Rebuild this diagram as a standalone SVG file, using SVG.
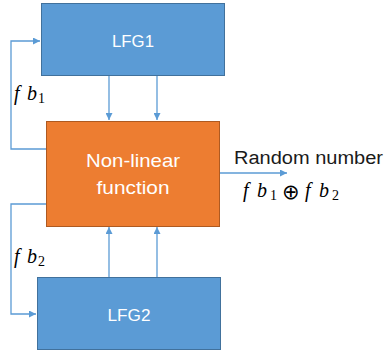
<svg xmlns="http://www.w3.org/2000/svg" width="385" height="353" viewBox="0 0 385 353">
<style>
.blue{fill:#5B9BD5;stroke:#41719C;stroke-width:1}
.orange{fill:#ED7D31;stroke:#AE5A21;stroke-width:1}
.lbl{font-family:"Liberation Sans",Arial,sans-serif;fill:#fff;text-anchor:middle}
.con{fill:none;stroke:#5B9BD5;stroke-width:1.3}
.math{font-family:"Liberation Serif","DejaVu Serif",serif;font-style:italic;fill:#000;font-size:20px}
.sub{font-style:normal;font-size:14px}
</style>
<defs>
<marker id="a" viewBox="0 0 10 10" refX="10" refY="5" markerWidth="7" markerHeight="7" orient="auto" markerUnits="userSpaceOnUse">
<path d="M0,0 L10,5 L0,10 z" fill="#5B9BD5"/>
</marker>
</defs>
<g id="connectors">
<path class="con" d="M109,75 V120" marker-end="url(#a)"/>
<path class="con" d="M157,75 V120" marker-end="url(#a)"/>
<path class="con" d="M109,277 V227" marker-end="url(#a)"/>
<path class="con" d="M157,277 V227" marker-end="url(#a)"/>
<path class="con" d="M46,149 H11 V41 H40" marker-end="url(#a)"/>
<path class="con" d="M46,204 H11 V314 H36" marker-end="url(#a)"/>
<path class="con" d="M220,173 H287" marker-end="url(#a)"/>
</g>
<g id="lfg1">
<rect class="blue" x="41.5" y="3.5" width="183" height="72"/>
<text class="lbl" x="133" y="47" font-size="17" textLength="42" lengthAdjust="spacingAndGlyphs">LFG1</text>
</g>
<g id="nonlinear">
<rect class="orange" x="46.5" y="121.5" width="173" height="105"/>
<text class="lbl" x="133" y="167" font-size="19" textLength="94" lengthAdjust="spacingAndGlyphs">Non-linear</text>
<text class="lbl" x="133" y="194" font-size="19" textLength="73" lengthAdjust="spacingAndGlyphs">function</text>
</g>
<g id="lfg2">
<rect class="blue" x="37.5" y="277.5" width="183" height="72"/>
<text class="lbl" x="129" y="321" font-size="17" textLength="43" lengthAdjust="spacingAndGlyphs">LFG2</text>
</g>
<g id="labels">
<text x="234" y="164" font-family="&quot;Liberation Sans&quot;,Arial,sans-serif" font-size="18" fill="#1a1a1a" textLength="149" lengthAdjust="spacingAndGlyphs">Random number</text>
<text class="math" y="197"><tspan x="243">f</tspan><tspan x="257">b</tspan><tspan class="sub" x="270" y="200">1</tspan><tspan x="282" y="199" style="font-style:normal;font-family:'DejaVu Sans',sans-serif;font-size:21px">⊕</tspan><tspan x="305" y="197">f</tspan><tspan x="319">b</tspan><tspan class="sub" x="332" y="200">2</tspan></text>
<text class="math" y="100"><tspan x="14">f</tspan><tspan x="27">b</tspan><tspan class="sub" x="38" y="103">1</tspan></text>
<text class="math" y="263"><tspan x="14">f</tspan><tspan x="27">b</tspan><tspan class="sub" x="38" y="266">2</tspan></text>
</g>
</svg>
